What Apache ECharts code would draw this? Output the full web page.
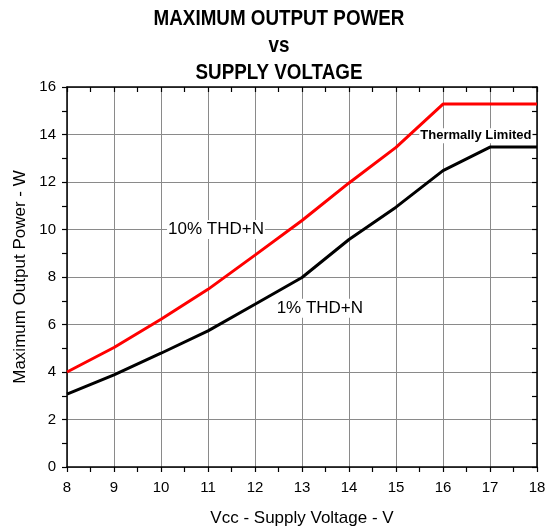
<!DOCTYPE html>
<html><head><meta charset="utf-8">
<script src="https://cdn.jsdelivr.net/npm/echarts@6/dist/echarts.min.js"></script>
<style>html,body{margin:0;padding:0;background:#fff}#c{width:555px;height:532px}</style>
</head><body><div id="c"></div>
<script>
var vcc = [8, 9, 10, 11, 12, 13, 14, 15, 16, 17, 18];
var thd10 = [4.0, 5.03, 6.22, 7.48, 8.92, 10.38, 11.96, 13.46, 15.28, 15.28, 15.28];
var thd1 = [3.07, 3.88, 4.79, 5.73, 6.85, 7.98, 9.58, 10.94, 12.48, 13.47, 13.47];
var titleLines = ['MAXIMUM OUTPUT POWER', 'vs', 'SUPPLY VOLTAGE'];
var xName = 'Vcc - Supply Voltage - V';
var yName = 'Maximum Output Power - W';
var notes = [
  {text: '10% THD+N', x: 11.17, y: 10.0, bold: false},
  {text: '1% THD+N', x: 13.38, y: 6.68, bold: false},
  {text: 'Thermally Limited', x: 16.7, y: 13.95, bold: true}
];

function pairs(xs, ys){ return xs.map(function(v,i){ return [v, ys[i]]; }); }
var F = 'Liberation Sans, Arial, sans-serif';
var chart = echarts.init(document.getElementById('c'));
var axisCommon = {
  type: 'value',
  axisLine: {show: true, onZero: false, lineStyle: {color: '#000', width: 1.5}},
  axisTick: {show: true, length: 5, lineStyle: {color: '#000', width: 1.2}},
  minorTick: {show: true, splitNumber: 2, length: 5, lineStyle: {color: '#000', width: 1.2}},
  splitLine: {show: false}
};
function ax(extra){ return Object.assign({}, JSON.parse(JSON.stringify(axisCommon)), extra); }
var titleY = [19, 46, 73];
var graphics = titleLines.map(function(t, i){
  return {type: 'text', x: 279, y: titleY[i], scaleX: 0.855, silent: true,
    style: {text: t, textAlign: 'center', textVerticalAlign: 'middle',
      font: 'bold 22px ' + F, fill: '#000'}};
});
chart.setOption({
  animation: false,
  backgroundColor: '#fff',
  graphic: graphics,
  grid: {left: 67, right: 18, top: 87, bottom: 64},
  xAxis: [
    ax({position: 'bottom', min: 8, max: 18, interval: 1,
      name: xName, nameLocation: 'middle', nameGap: 43,
      nameTextStyle: {fontFamily: F, fontSize: 17, color: '#000'},
      axisLabel: {fontFamily: F, fontSize: 15, color: '#000', margin: 13},
      splitLine: {show: true, lineStyle: {color: '#8a8a8a', width: 1}}}),
    ax({position: 'top', min: 8, max: 18, interval: 1,
      axisTick: {show: true, inside: true, length: 5, lineStyle: {color: '#000', width: 1.2}},
      minorTick: {show: true, splitNumber: 2, length: 5, lineStyle: {color: '#000', width: 1.2}},
      axisLabel: {show: false}})
  ],
  yAxis: [
    ax({position: 'left', min: 0, max: 16, interval: 2,
      name: yName, nameLocation: 'middle', nameGap: 35, nameRotate: 90,
      nameTextStyle: {fontFamily: F, fontSize: 17, color: '#000'},
      axisLabel: {fontFamily: F, fontSize: 15, color: '#000', margin: 11},
      splitLine: {show: true, lineStyle: {color: '#8a8a8a', width: 1}}}),
    ax({position: 'right', min: 0, max: 16, interval: 2,
      axisTick: {show: true, inside: true, length: 5, lineStyle: {color: '#000', width: 1.2}},
      minorTick: {show: true, splitNumber: 2, length: 5, lineStyle: {color: '#000', width: 1.2}},
      axisLabel: {show: false}})
  ],
  series: [
    {type: 'line', name: '10% THD+N', data: pairs(vcc, thd10), showSymbol: false,
      lineStyle: {color: '#ff0000', width: 3}, z: 3},
    {type: 'line', name: '1% THD+N', data: pairs(vcc, thd1), showSymbol: false,
      lineStyle: {color: '#000', width: 3}, z: 3,
      markPoint: {symbol: 'circle', symbolSize: 0, silent: true, z: 5,
        data: notes.map(function(n){
          return {coord: [n.x, n.y], value: n.text,
            label: {show: true, position: 'inside', formatter: n.text,
              fontFamily: F, fontSize: n.bold ? 13 : 17, fontWeight: n.bold ? 'bold' : 'normal',
              color: '#000', backgroundColor: '#fff', padding: [1, 1]}};
        })}}
  ]
});
</script></body></html>
